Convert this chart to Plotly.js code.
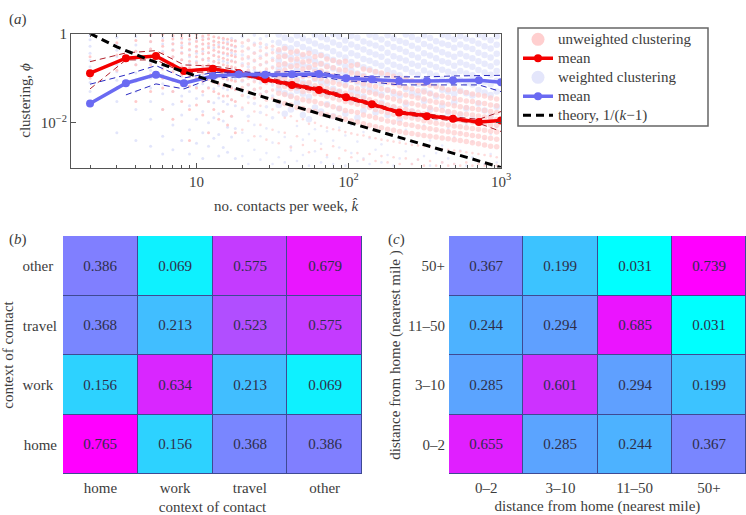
<!DOCTYPE html>
<html><head><meta charset="utf-8">
<script src="https://cdn.plot.ly/plotly-3.0.1.min.js"></script>
<style>html,body{margin:0;padding:0;background:#fff}</style></head>
<body><div id="chart" style="width:746px;height:515px"></div>
<script>
// ---- panel (a): means
const meanK=[2,3.44,5.42,8.28,12.8,19,28.2,42.4,63.8,96,142,214,326,484,716,1000];
const redMean=[.129,.279,.314,.145,.163,.129,.0948,.0706,.0546,.0375,.0262,.017,.0141,.0123,.0104,.0113];
const redUp=[.234,.367,.413,.198,.188,.153,.107,.0783,.0605,.0412,.0287,.0185,.0155,.0136,.012,.0179];
const redLow=[.0575,.256,.256,.131,.14,.118,.0868,.0637,.0493,.0344,.024,.0159,.0129,.0111,.00975,.0064];
const blueMean=[.027,.0771,.12,.0771,.112,.1225,.12,.1225,.1245,.0998,.0948,.0868,.0868,.09,.09,.0812];
const blueUp=[.0733,.118,.191,.101,.133,.138,.134,.1415,.138,.112,.107,.107,.107,.112,.115,.116];
const blueLow=[null,.0422,.0744,.0575,.101,.107,.107,.107,.109,.0868,.0824,.0706,.0706,.0706,.0706,.05];
const theoryK=[2,3,5,10,30,100,300,1000];
const theoryPhi=[1,.5,.25,.111,.0345,.0101,.00334,.001];
// ---- panel (a): clouds, estimated column by column
const lowK=[2,3,4,5,6,7,8,9,10,11,12,13,14,15,16,17,18];
const unwLow=[
[.3,.1],[.62,.33,.15,.06],[.7,.4,.2,.09,.03],[.92,.66,.45,.31,.2,.12,.05],[.95,.7,.52,.36,.25,.16,.1,.06,.02],
[.9,.75,.58,.42,.3,.21,.14,.09,.05,.012],[.95,.8,.62,.48,.36,.26,.18,.12,.07,.03],[.9,.74,.58,.44,.33,.24,.17,.11,.066,.02,.004],
[.96,.8,.66,.52,.4,.3,.22,.15,.1,.06,.025],[.88,.72,.58,.45,.35,.26,.19,.13,.085,.05,.015],[.92,.76,.6,.48,.37,.28,.2,.14,.095,.06,.03,.006],
[.85,.68,.55,.42,.32,.24,.17,.12,.08,.05,.02],[.8,.64,.5,.39,.3,.22,.16,.11,.075,.045,.012],[.78,.62,.48,.37,.28,.2,.145,.1,.07,.04,.018],
[.74,.58,.45,.35,.26,.19,.14,.095,.065,.04,.009],[.7,.55,.42,.32,.24,.18,.13,.09,.06,.033,.014],[.68,.52,.4,.3,.23,.17,.12,.085,.055,.03,.006]];
const wLow=[
[.9,.72,.52,.36,.25,.18,.12,.08,.05],[.82,.6,.42,.3,.2,.14,.09,.06,.03,.006],[.86,.55,.4,.27,.2,.13,.085,.05,.02,.004],
[.9,.65,.45,.3,.22,.15,.1,.06,.03,.012,.003],[.8,.58,.4,.28,.18,.12,.075,.045,.02,.005,.002],[.85,.6,.44,.3,.2,.14,.09,.05,.026,.009,.0025],
[.75,.54,.38,.26,.17,.11,.07,.04,.015,.004],[.88,.62,.42,.3,.21,.13,.085,.05,.024,.007,.002],[.7,.5,.36,.24,.16,.1,.065,.035,.012,.0035],
[.82,.58,.4,.27,.18,.12,.075,.042,.018,.006,.0016],[.76,.52,.37,.25,.16,.105,.062,.03,.01,.003],[.66,.48,.33,.23,.15,.095,.058,.028,.013,.0045],
[.8,.56,.38,.26,.17,.11,.068,.036,.016,.0055,.0018],[.72,.5,.35,.24,.155,.1,.06,.03,.011,.0028],[.64,.46,.32,.22,.14,.09,.055,.026,.008,.0022],
[.78,.54,.37,.25,.16,.1,.063,.033,.014,.0048],[.7,.49,.34,.23,.15,.094,.056,.024,.0075,.0016]];
const highK=[20,21.9,24,26.3,28.8,31.6,34.7,38,41.7,45.7,50,54.8,60,65.8,72,79,86.6,95,104,114,125,137,150,164,180,197,216,237,260,285,312,342,375,411,450,493,540,592,649,711,780,855,937];
const unwHigh=[
[.62,.4,.27,.19,.13,.09,.062,.041,.022,.007],[.7,.47,.3,.21,.15,.1,.072,.05,.028,.011],[.55,.36,.25,.17,.12,.083,.056,.036,.018,.005],
[.6,.41,.28,.2,.135,.092,.06,.043,.024,.009],[.48,.33,.23,.16,.11,.076,.05,.032,.015,.0042],[.52,.37,.25,.17,.115,.08,.054,.035,.02,.007],
[.43,.3,.2,.14,.1,.068,.046,.03,.017,.0035],[.46,.31,.21,.15,.098,.065,.043,.027,.013,.006],[.38,.26,.18,.125,.085,.058,.039,.025,.014,.0028],
[.4,.27,.19,.13,.09,.06,.036,.022,.011,.005],[.34,.23,.16,.11,.075,.05,.033,.021,.012,.0032],[.36,.24,.17,.115,.08,.052,.031,.019,.0095,.0022],
[.3,.2,.14,.1,.068,.045,.03,.018,.01,.004],[.32,.21,.145,.098,.066,.043,.027,.016,.0085,.0026],[.27,.18,.125,.085,.058,.039,.025,.015,.0078,.0019],
[.25,.17,.115,.08,.054,.036,.023,.014,.0072,.003],[.23,.155,.105,.073,.05,.033,.021,.013,.0068,.0016],[.24,.15,.1,.068,.046,.03,.019,.012,.0062,.0024],
[.19,.13,.09,.062,.042,.028,.018,.011,.0058,.0017],[.2,.125,.085,.058,.039,.026,.017,.0105,.0054,.0021],[.16,.11,.075,.052,.036,.024,.015,.0095,.0052,.0015],
[.15,.1,.07,.048,.033,.022,.014,.0088,.0048,.002],[.14,.095,.065,.044,.03,.02,.013,.0082,.0045,.0014],[.13,.085,.058,.04,.027,.018,.012,.0078,.0042,.0018],
[.12,.08,.054,.037,.025,.017,.011,.0072,.004,.0013],[.11,.075,.05,.034,.023,.0155,.0105,.0068,.0038,.0017],[.1,.068,.046,.031,.021,.014,.0098,.0064,.0036,.0012],
[.095,.062,.042,.029,.02,.0135,.0092,.006,.0034,.0016],[.088,.058,.039,.027,.0185,.0128,.0088,.0058,.0032,.0012],[.08,.052,.036,.025,.0172,.012,.0082,.0055,.0031,.0015],
[.074,.049,.034,.0235,.016,.0112,.0078,.0052,.003,.0011],[.069,.045,.031,.022,.015,.0105,.0074,.005,.0029,.0014],[.064,.042,.029,.02,.014,.0098,.007,.0048,.0027,.0011],
[.06,.04,.028,.019,.0132,.0094,.0066,.0046,.0026,.0013],[.055,.037,.026,.018,.0125,.009,.0063,.0044,.0025,.0011],[.058,.035,.024,.017,.012,.0085,.006,.0042,.0024,.0012],
[.05,.033,.023,.016,.0115,.0082,.0058,.004,.0023,.0011],[.048,.031,.022,.0155,.011,.0078,.0055,.0038,.0022,.0013],[.044,.03,.021,.015,.0105,.0075,.0052,.0036,.0021,.0011],
[.042,.028,.02,.0142,.01,.0072,.005,.0034,.002,.0012],[.04,.027,.019,.0135,.0095,.0068,.0047,.0032,.0019,.0011],[.036,.025,.018,.013,.009,.0065,.0045,.003,.0018,.0012],
[.034,.024,.017,.012,.0088,.0062,.0043,.0029,.0017,.0011]];
const wHigh=[
[.85,.52,.33,.21,.14,.085,.05,.02,.006,.0018],[.7,.45,.28,.18,.12,.07,.038,.014,.004,.0012],[.92,.6,.37,.24,.15,.09,.055,.027,.009,.0025],
[.76,.5,.31,.2,.13,.078,.044,.017,.005,.0015],[.88,.56,.35,.22,.145,.088,.05,.023,.0075,.0021],[.66,.43,.28,.18,.115,.07,.04,.013,.0036,.0012],
[.95,.62,.39,.25,.16,.098,.056,.025,.0062,.0017],[.8,.5,.32,.2,.125,.078,.046,.016,.0048,.0013],[.72,.47,.29,.19,.12,.074,.041,.02,.003,.0024],
[.9,.58,.36,.23,.15,.094,.052,.028,.0085,.0014],[.78,.5,.31,.2,.13,.08,.045,.015,.0042,.0019],[.68,.44,.28,.18,.118,.072,.038,.012,.0056,.0011],
[.93,.6,.38,.24,.155,.096,.055,.022,.0072,.0023],[.82,.52,.33,.21,.135,.083,.048,.018,.0034,.0013],[.74,.48,.3,.19,.125,.076,.042,.026,.0065,.0017],
[.96,.63,.4,.26,.165,.1,.058,.014,.004,.0012],[.86,.55,.34,.22,.14,.087,.05,.021,.0078,.0028],[.7,.46,.29,.185,.12,.073,.04,.016,.0052,.0011],
[.89,.57,.36,.23,.148,.092,.053,.03,.009,.0021],[.8,.5,.32,.2,.128,.08,.047,.013,.0038,.0014],[.66,.44,.27,.175,.113,.07,.039,.019,.0062,.0016],
[.94,.6,.38,.245,.158,.097,.056,.024,.0045,.0012],[.84,.54,.34,.215,.138,.085,.049,.017,.0082,.0025],[.73,.47,.3,.19,.122,.075,.043,.028,.0033,.0013],
[.91,.59,.37,.235,.15,.093,.054,.015,.0058,.0019],[.78,.5,.31,.2,.13,.079,.045,.022,.0095,.0011],[.68,.45,.28,.18,.116,.071,.04,.012,.0042,.0016],
[.95,.62,.39,.25,.16,.098,.057,.026,.007,.0023],[.83,.53,.33,.21,.135,.083,.047,.018,.0036,.0012],[.72,.46,.29,.19,.12,.074,.042,.014,.0052,.0015],
[.9,.58,.36,.23,.148,.09,.052,.031,.0088,.0018],[.79,.51,.32,.2,.128,.078,.046,.02,.004,.0011],[.67,.44,.28,.178,.114,.07,.039,.013,.0066,.0021],
[.93,.6,.38,.24,.155,.095,.055,.024,.0031,.0013],[.85,.55,.34,.22,.14,.086,.05,.017,.0075,.0016],[.74,.48,.3,.19,.124,.076,.044,.029,.0048,.0012],
[.88,.57,.35,.225,.145,.09,.052,.015,.006,.0024],[.77,.49,.31,.2,.127,.078,.046,.021,.0092,.0011],[.69,.45,.28,.18,.116,.072,.041,.012,.0038,.0017],
[.92,.6,.37,.24,.152,.094,.054,.027,.007,.0014],[.82,.52,.33,.21,.134,.082,.048,.019,.0044,.0012],[.71,.46,.29,.186,.12,.073,.042,.014,.0056,.002],
[.87,.56,.35,.225,.145,.088,.05,.023,.008,.0013]];
// ---- panels (b), (c)
const contexts=['home','work','travel','other'];
const contextTicks=['home','work&nbsp;','travel','other&nbsp;'];
const contextZ=[[.765,.156,.368,.386],[.156,.634,.213,.069],[.368,.213,.523,.575],[.386,.069,.575,.679]];
const distances=['0–2','3–10','11–50','50+'];
const distanceZ=[[.655,.285,.244,.367],[.285,.601,.294,.199],[.244,.294,.685,.031],[.367,.199,.031,.739]];
const minorK=[2,3,4,5,6,7,8,9,20,30,40,50,60,70,80,90,200,300,400,500,600,700,800,900];

const FONT='"Liberation Serif","Times New Roman",serif', INK='#3c3c3c';
const W=746,H=515;
const dx=(a,b)=>[a/W,b/W], dy=(top,bot)=>[(H-bot)/H,(H-top)/H];
const flatX=(ks,cols)=>ks.flatMap((k,i)=>cols[i].map(()=>k));
const span=t=>'<span style="font-size:15px">'+t+'</span>';

function line(y,color,width,dash,name,markers){
  return {x:meanK,y:y,xaxis:'x',yaxis:'y',type:'scatter',mode:markers?'lines+markers':'lines',connectgaps:false,
    line:{color:color,width:width,dash:dash||'solid'},marker:{color:color,size:8},name:name||'',showlegend:!!name,hoverinfo:'skip'};
}
function cloud(ks,cols,color,op,size){
  return {x:flatX(ks,cols),y:cols.flat(),xaxis:'x',yaxis:'y',type:'scatter',mode:'markers',marker:{color:color,size:size,opacity:op,line:{width:0}},showlegend:false,hoverinfo:'skip'};
}
// The high-k columns are drawn in three tiers: stripes near k=20, filled band above,
// and the sparse tail of each column (its smallest values) as fine dots.
function highTiers(cols,color,op,big){
  const cut=6;
  return [
    cloud(highK.slice(0,cut),cols.slice(0,cut).map(c=>c.slice(0,8)),color,op,3.6),
    cloud(highK.slice(cut),cols.slice(cut).map(c=>c.slice(0,8)),color,op,big),
    cloud(highK,cols.map(c=>c.slice(8)),color,op,2.6)
  ];
}
function proxy(color,name){
  return {x:[null],y:[null],xaxis:'x',yaxis:'y',type:'scatter',mode:'markers',marker:{color:color,size:13},name:name};
}
function heat(xa,ya,xs,ys,z){
  return {type:'heatmap',x:xs,y:ys,z:z,xaxis:xa,yaxis:ya,zmin:.031,zmax:.74,showscale:false,xgap:1,ygap:1,
    colorscale:[[0,'#00ffff'],[1,'#ff00ff']],texttemplate:'%{z:.3f}',textfont:{family:FONT,size:15,color:'#2e2e4a'},hoverinfo:'skip'};
}
const PINK='#ffcfcf', LAV='#e4e6fb';
const data=[
  cloud(lowK,wLow,'#dfe2fb',.9,3),
  ...highTiers(wHigh,LAV,.85,6.5),
  cloud(lowK,unwLow,'#ffc4c4',.9,3),
  ...highTiers(unwHigh,PINK,.75,5.5),
  proxy(PINK,span('unweighted clustering')),
  line(redUp,'#b0202a',1,'6px,4px'),
  line(redLow,'#b0202a',1,'6px,4px'),
  line(redMean,'#f40000',3.5,null,span('mean'),true),
  proxy(LAV,span('weighted clustering')),
  line(blueUp,'#2a2ac0',1,'6px,4px'),
  line(blueLow,'#2a2ac0',1,'6px,4px'),
  line(blueMean,'#6a6af2',3.5,null,span('mean'),true),
  {x:theoryK,y:theoryPhi,xaxis:'x',yaxis:'y',type:'scatter',mode:'lines',line:{color:'#000',width:3,dash:'8px,5px'},name:span('theory, 1/(<i>k</i>−1)'),hoverinfo:'skip'},
  heat('x2','y2',contexts,contexts,contextZ),
  heat('x3','y3',distances,distances,distanceZ)
];
const tf={family:FONT,size:15,color:INK};
const catAxis=(dom,anchor,title,st,len)=>({domain:dom,anchor:anchor,type:'category',tickfont:tf,ticks:'outside',ticklen:len,tickcolor:'rgba(0,0,0,0)',showgrid:false,zeroline:false,showline:false,
  title:{text:title,font:tf,standoff:st}});
const gapFill=(ax,ay)=>({type:'rect',layer:'below',xref:ax+' domain',yref:ay+' domain',x0:0,x1:1,y0:0,y1:1,line:{width:0},fillcolor:'#3f4a94'});
const layout={
  width:W,height:H,margin:{l:0,r:0,t:0,b:0},paper_bgcolor:'#fff',plot_bgcolor:'#fff',font:tf,hovermode:false,
  xaxis:{domain:dx(71,501),anchor:'y',type:'log',range:[0.176,3],tickmode:'array',tickvals:[10,100,1000],ticktext:['10','10<sup>2</sup>','10<sup>3</sup>'],
    ticks:'inside',ticklen:5,tickcolor:'#555',tickfont:tf,mirror:'ticks',showline:true,linecolor:'#555',linewidth:1,showgrid:false,zeroline:false,
    minor:{tickmode:'array',tickvals:minorK,ticks:'inside',ticklen:3,tickcolor:'#555',showgrid:false},
    title:{text:'no. contacts per week, <i>k̂</i>',font:tf,standoff:11}},
  yaxis:{domain:dy(33.5,167.5),anchor:'x',type:'log',range:[-3,0],tickmode:'array',tickvals:[1,.01],ticktext:['1','10<sup>−2</sup>'],
    ticks:'inside',ticklen:5,tickcolor:'#555',tickfont:tf,mirror:'ticks',showline:true,linecolor:'#555',linewidth:1,showgrid:false,zeroline:false,
    title:{text:'clustering, <i>ϕ</i>',font:tf,standoff:6}},
  xaxis2:catAxis(dx(63,362),'y2','context of contact',8,0),
  yaxis2:Object.assign(catAxis(dy(236,474),'x2','context of contact',5,2),{tickmode:'array',tickvals:contexts,ticktext:contextTicks}),
  xaxis3:catAxis(dx(449,746),'y3','distance from home (nearest mile)',8,0),
  yaxis3:catAxis(dy(236,474),'x3','distance from home (nearest mile )',3,0),
  legend:{x:518/W,y:(H-24.8)/H,xanchor:'left',yanchor:'top',bgcolor:'rgba(0,0,0,0)',borderwidth:0,font:{family:FONT,size:11,color:INK},traceorder:'normal'},
  shapes:[
    gapFill('x2','y2'),gapFill('x3','y3'),
    {type:'rect',xref:'paper',yref:'paper',x0:518/W,x1:708/W,y0:(H-126)/H,y1:(H-28)/H,line:{color:'#666',width:1.5},fillcolor:'rgba(0,0,0,0)'}
  ],
  annotations:[
    {text:'(<i>a</i>)',x:18/W,y:(H-19)/H},{text:'(<i>b</i>)',x:18/W,y:(H-239)/H},{text:'(<i>c</i>)',x:396/W,y:(H-239)/H}
  ].map(a=>Object.assign(a,{xref:'paper',yref:'paper',showarrow:false,font:tf,xanchor:'center',yanchor:'middle'}))
};
Plotly.newPlot('chart',data,layout,{displayModeBar:false,staticPlot:true});
</script></body></html>
